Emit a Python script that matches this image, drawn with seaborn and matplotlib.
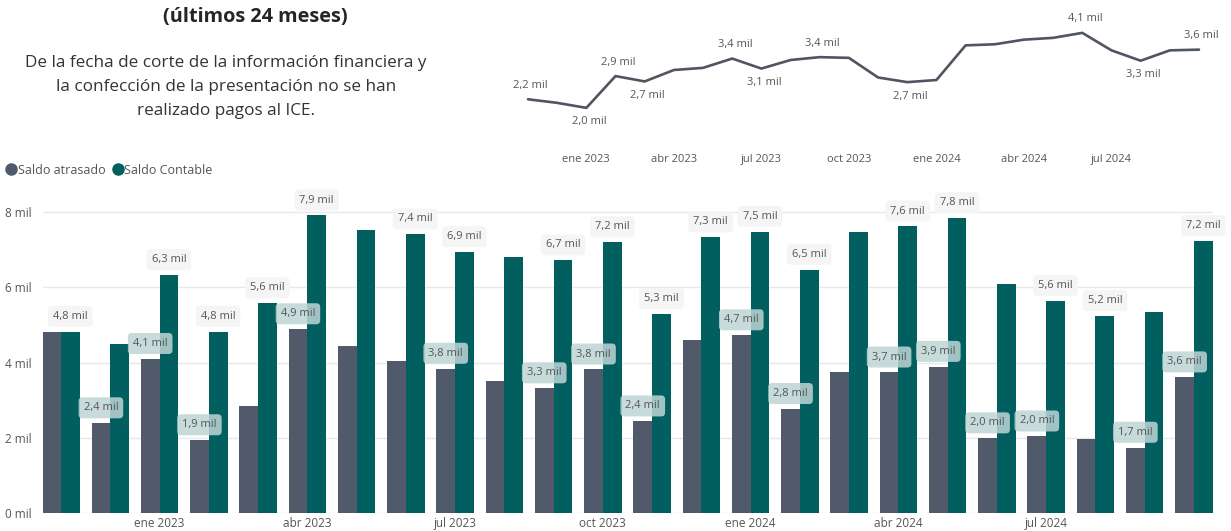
import matplotlib
matplotlib.use('Agg')
import matplotlib.pyplot as plt
import numpy as np
import pandas as pd
import seaborn as sns
from matplotlib.lines import Line2D

# months shown (nov 2022 - oct 2024)
meses = ['nov 2022', 'dic 2022', 'ene 2023', 'feb 2023', 'mar 2023', 'abr 2023',
         'may 2023', 'jun 2023', 'jul 2023', 'ago 2023', 'sep 2023', 'oct 2023',
         'nov 2023', 'dic 2023', 'ene 2024', 'feb 2024', 'mar 2024', 'abr 2024',
         'may 2024', 'jun 2024', 'jul 2024', 'ago 2024', 'sep 2024', 'oct 2024']
tick_meses = ['ene 2023', 'abr 2023', 'jul 2023', 'oct 2023', 'ene 2024', 'abr 2024', 'jul 2024']

# bars, in thousands
saldo_atrasado = [4.82, 2.39, 4.10, 1.94, 2.85, 4.89, 4.43, 4.03, 3.84, 3.50, 3.32, 3.82,
                  2.44, 4.61, 4.73, 2.77, 3.75, 3.74, 3.89, 1.99, 2.04, 1.97, 1.74, 3.61]
saldo_contable = [4.82, 4.50, 6.33, 4.82, 5.58, 7.91, 7.51, 7.41, 6.94, 6.80, 6.72, 7.20,
                  5.29, 7.33, 7.48, 6.47, 7.48, 7.62, 7.84, 6.08, 5.64, 5.24, 5.33, 7.23]
# which bars carry a data label
lbl_atrasado = [0, 1, 1, 1, 0, 1, 0, 0, 1, 0, 1, 1, 1, 0, 1, 1, 0, 1, 1, 1, 1, 0, 1, 1]
lbl_contable = [1, 0, 1, 1, 1, 1, 0, 1, 1, 0, 1, 1, 1, 1, 1, 1, 0, 1, 1, 0, 1, 1, 0, 1]

# small line chart on top, in thousands
linea = [2.24, 2.14, 2.00, 2.89, 2.74, 3.06, 3.12, 3.38, 3.10, 3.34, 3.42, 3.40,
         2.85, 2.72, 2.78, 3.75, 3.78, 3.91, 3.96, 4.10, 3.61, 3.32, 3.61, 3.63]
# label placement for line points: 1 above, -1 below, 0 none
lbl_linea = [1, 0, -1, 1, -1, 0, 0, 1, -1, 0, 1, 0, 0, -1, 0, 0, 0, 0, 0, 1, 0, -1, 0, 1]

GRIS = '#505a6a'
VERDE = '#01605f'
TXT = '#555555'

sns.set_theme(style='white')
plt.rcParams['font.family'] = ['Open Sans', 'DejaVu Sans']


def fmt(v):
    return f"{v:.1f}".replace('.', ',') + " mil"


W, H = 1231, 531
fig = plt.figure(figsize=(W / 100, H / 100), dpi=100)

# ---- bar chart ----
df = pd.DataFrame({
    'mes': meses * 2,
    'valor': saldo_atrasado + saldo_contable,
    'serie': ['Saldo atrasado'] * len(meses) + ['Saldo Contable'] * len(meses),
})

step = 49.26
ax = fig.add_axes([43 / W, 18 / H, 1170 / W, 316 / H])
sns.barplot(data=df, x='mes', y='valor', hue='serie', order=meses,
            palette={'Saldo atrasado': GRIS, 'Saldo Contable': VERDE},
            width=0.76, saturation=1, legend=False, linewidth=0, ax=ax)
ax.set_xlim(-(61 - 43) / step, 23 + (1213 - 1194) / step)
ax.set_ylim(0, 8.4)
ax.set_yticks([0, 2, 4, 6, 8])
ax.set_yticklabels([f"{t} mil" for t in [0, 2, 4, 6, 8]])
ax.set_xticks([meses.index(m) for m in tick_meses])
ax.set_xticklabels(tick_meses)
ax.tick_params(axis='both', length=0, labelsize=8.5, labelcolor=TXT)
ax.tick_params(axis='y', pad=8)
ax.tick_params(axis='x', pad=3)
ax.set_xlabel('')
ax.set_ylabel('')
ax.grid(axis='y', color='#e8e8e8', linewidth=1)
ax.set_axisbelow(True)
for s in ax.spines.values():
    s.set_visible(False)

for bars, vals, show, fc, alpha in [
        (ax.containers[1], saldo_contable, lbl_contable, '#f5f5f5', 1.0),
        (ax.containers[0], saldo_atrasado, lbl_atrasado, '#bfd5d5', 0.85)]:
    for rect, v, s in zip(bars, vals, show):
        if not s:
            continue
        ax.annotate(fmt(v), (rect.get_x() + rect.get_width() / 2, rect.get_height()),
                    xytext=(0, 11), textcoords='offset points', ha='center', va='center',
                    fontsize=8, color=TXT,
                    bbox=dict(boxstyle='round,pad=0.45,rounding_size=0.35',
                              fc=fc, ec='none', alpha=alpha))

handles = [Line2D([], [], marker='o', ls='', color=GRIS, markersize=8),
           Line2D([], [], marker='o', ls='', color=VERDE, markersize=8)]
fig.legend(handles, ['Saldo atrasado', 'Saldo Contable'], loc='center left',
           bbox_to_anchor=(0.0, 1 - 170 / H), ncol=2, frameon=False,
           handletextpad=0.0, columnspacing=0.5, fontsize=9, labelcolor=TXT,
           borderaxespad=0, handlelength=1.0)

# ---- line chart ----
lstep = 29.17
ax2 = fig.add_axes([510 / W, 1 - 140 / H, 705 / W, 125 / H])
ldf = pd.DataFrame({'pos': np.arange(len(meses)), 'valor': linea})
sns.lineplot(data=ldf, x='pos', y='valor', color='#4f5662', linewidth=1.9, ax=ax2)
ax2.set_xlim(-(528 - 510) / lstep, 23 + (1215 - 1199) / lstep)
ax2.set_ylim(1.10, 4.60)
ax2.set_yticks([])
ax2.set_xticks([meses.index(m) for m in tick_meses])
ax2.set_xticklabels(tick_meses)
ax2.tick_params(axis='x', length=0, labelsize=8, labelcolor=TXT, pad=10)
ax2.set_xlabel('')
ax2.set_ylabel('')
for s in ax2.spines.values():
    s.set_visible(False)
for i, (v, d) in enumerate(zip(linea, lbl_linea)):
    if d == 0:
        continue
    ax2.annotate(fmt(v), (i, v), xytext=(2, 10 * d), textcoords='offset points',
                 ha='center', va='center', fontsize=8, color=TXT)

# ---- text block ----
fig.text(255 / W, 1 - 17 / H, '(últimos 24 meses)', ha='center', va='center',
         fontsize=14.3, fontweight='bold', color='#252525')
fig.text(226 / W, 1 - 87 / H,
         'De la fecha de corte de la información financiera y\n'
         'la confección de la presentación no se han\n'
         'realizado pagos al ICE.',
         ha='center', va='center', fontsize=12.3, color='#333333', linespacing=1.65)

fig.savefig('out.png', dpi=100)
